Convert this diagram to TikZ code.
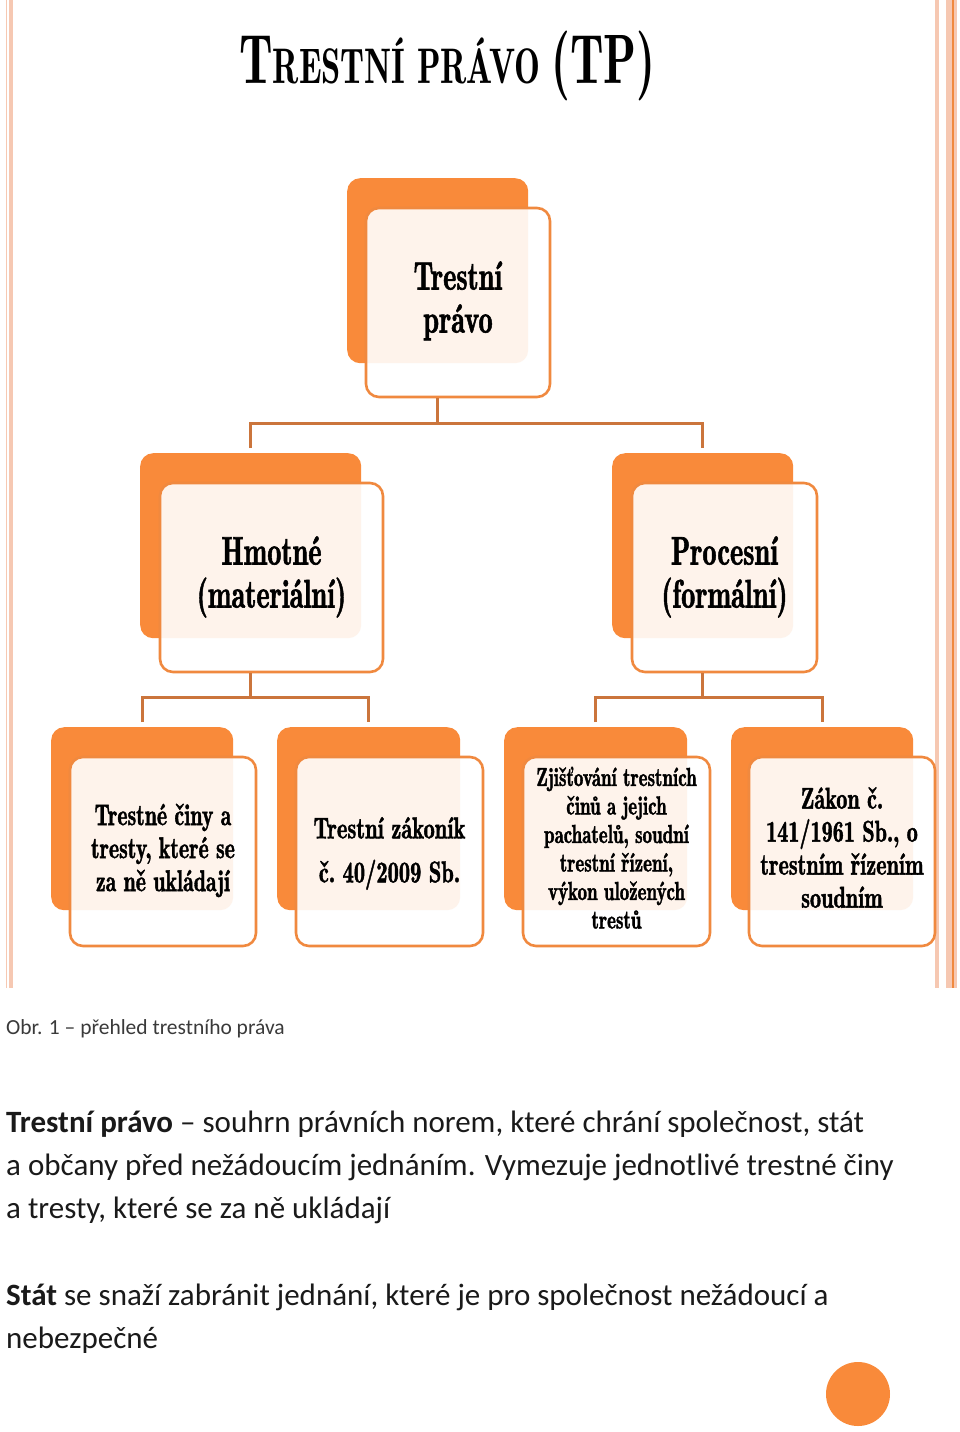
\documentclass[tikz,border=0pt]{standalone}
\usepackage{fontspec}
\newfontfamily\carlito{Carlito}
\newfontfamily\boxfont[FakeBold=1.6]{lmromandemi10-regular.otf}
\definecolor{orangeA}{HTML}{F98A3A}
\definecolor{borderO}{HTML}{F0893F}
\definecolor{connC}{HTML}{CB753C}
\definecolor{pinkL}{HTML}{F6C8B2}
\definecolor{capG}{HTML}{3A3A3A}
\definecolor{txtB}{HTML}{1A1A1A}
\newcommand\boxlabel[4]{\scalebox{#1}[1]{\boxfont\fontsize{#2}{#3}\selectfont\begin{tabular}{@{}c@{}}#4\end{tabular}}}
\tikzset{
  backbox/.style={rectangle, rounded corners=13pt, fill=orangeA, anchor=north west, inner sep=0pt},
  frontbox/.style={rectangle, rounded corners=13pt, draw=borderO, line width=2.6pt, fill=white, fill opacity=0.9, draw opacity=1, text opacity=1, inner sep=0pt, text=black},
  conn/.style={draw=connC, line width=3pt, line join=miter},
  bodyline/.style={anchor=base west, inner sep=0pt, text=txtB, font=\carlito\fontsize{31}{34}\selectfont},
}
\begin{document}
\begin{tikzpicture}[x=1pt,y=-1pt]
\fill[white] (0,0) rectangle (960,1432);
\useasboundingbox (0,0) rectangle (960,1432);
% page borders
\draw[pinkL, line width=1.4pt] (6.5,0) -- (6.5,988);
\draw[pinkL, line width=3.2pt] (11,0) -- (11,988);
\draw[pinkL, line width=4pt] (937,0) -- (937,988);
\draw[pinkL, line width=11pt] (951,0) -- (951,988);
\draw[borderO, line width=1.6pt] (953,0) -- (953,988);
% title
\node[anchor=base, inner sep=0pt] (title) at (447.5,83) {\scalebox{0.69}[1]{\fontsize{70}{70}\fontseries{b}\selectfont T\fontsize{50}{50}\selectfont RESTNÍ PRÁVO \fontsize{70}{70}\selectfont(TP)}};
% level 1
\node[backbox, minimum width=181pt, minimum height=185pt] (tpB) at (347,178) {};
\node[frontbox, minimum width=184pt, minimum height=189pt] (tpF) at (458,302.5) {\boxlabel{0.71}{40}{43}{Trestní\\právo}};
% level 2
\node[backbox, minimum width=221pt, minimum height=185pt] (hmB) at (140,453) {};
\node[frontbox, minimum width=223pt, minimum height=189pt] (hmF) at (271.5,577.5) {\boxlabel{0.71}{40}{43}{Hmotné\\(materiální)}};
\node[backbox, minimum width=181pt, minimum height=185pt] (prB) at (612,453) {};
\node[frontbox, minimum width=185pt, minimum height=189pt] (prF) at (724.5,577.5) {\boxlabel{0.71}{40}{43}{Procesní\\(formální)}};
% level 3
\node[backbox, minimum width=182pt, minimum height=183pt] (tcB) at (51,727) {};
\node[frontbox, minimum width=186pt, minimum height=189pt] (tcF) at (163,851.5) {\boxlabel{0.73}{30}{33}{Trestné činy a\\tresty, které se\\za ně ukládají}};
\node[backbox, minimum width=183pt, minimum height=183pt] (tzB) at (277,727) {};
\node[frontbox, minimum width=187pt, minimum height=189pt] (tzF) at (389.5,851.5) {\boxlabel{0.75}{30}{44}{Trestní zákoník\\č.~40/2009 Sb.}};
\node[backbox, minimum width=183pt, minimum height=183pt] (zjB) at (504,727) {};
\node[frontbox, minimum width=187pt, minimum height=189pt] (zjF) at (616.5,851.5) {\boxlabel{0.73}{26}{28.5}{Zjišťování trestních\\činů a jejich\\pachatelů, soudní\\trestní řízení,\\výkon uložených\\trestů}};
\node[backbox, minimum width=182pt, minimum height=183pt] (zkB) at (731,727) {};
\node[frontbox, minimum width=186pt, minimum height=189pt] (zkF) at (842,851.5) {\boxlabel{0.74}{30}{33}{Zákon č.\\141/1961 Sb., o\\trestním řízením\\soudním}};
% bus coordinates
\coordinate (bus1) at (0,423);
\coordinate (bus2) at (0,697);
% connectors
\draw[conn] (tpB.center |- tpF.south) -- (tpB.center |- bus1);
\draw[conn] ([yshift=5pt]hmB.north) -- (hmB.north |- bus1) -- (prB.north |- bus1) -- ([yshift=5pt]prB.north);
\draw[conn] (hmB.center |- hmF.south) -- (hmB.center |- bus2);
\draw[conn] ([yshift=5pt]tcB.north) -- (tcB.north |- bus2) -- (tzB.north |- bus2) -- ([yshift=5pt]tzB.north);
\draw[conn] (prB.center |- prF.south) -- (prB.center |- bus2);
\draw[conn] ([yshift=5pt]zjB.north) -- (zjB.north |- bus2) -- (zkB.north |- bus2) -- ([yshift=5pt]zkB.north);
% caption and body
\node[anchor=base west, inner sep=0pt, text=capG, font=\carlito\fontsize{21.5}{24}\selectfont] (cap) at (6,1034) {Obr. 1 – přehled trestního práva};
\node[bodyline] (l1) at (6,1132) {\textbf{Trestní právo} – souhrn právních norem, které chrání společnost, stát};
\node[bodyline] (l2) at (6,1175) {a občany před nežádoucím jednáním. Vymezuje jednotlivé trestné činy};
\node[bodyline] (l3) at (6,1218) {a tresty, které se za ně ukládají};
\node[bodyline] (l4) at (6,1305) {\textbf{Stát} se snaží zabránit jednání, které je pro společnost nežádoucí a};
\node[bodyline] (l5) at (6,1348) {nebezpečné};
\node[circle, fill=orangeA, minimum size=64pt, inner sep=0pt] (dot) at (858,1394) {};
\end{tikzpicture}
\end{document}
